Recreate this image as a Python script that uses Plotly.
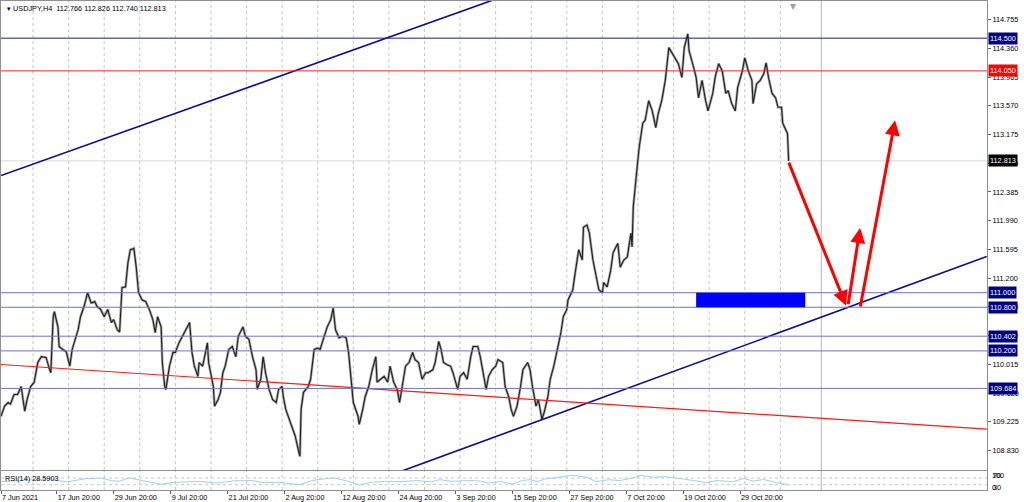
import plotly.graph_objects as go

# ---------------- data ----------------
# H4 bar index (0 = left edge of chart) and price
bars = [0,3,6,8,11,14,17,20,22,25,28,31,34,38,41,42,44,45,48,49,52,55,58,60,65,67,70,73,76,79,81,84,87,90,93,95,98,100,
        102,105,107,109,112,114,116,119,122,125,128,130,132,135,136,138,139,142,145,147,150,153,156,159,161,163,166,167,170,
        173,174,175,179,180,183,185,187,189,192,195,198,200,204,206,209,212,215,216,219,221,223,226,229,232,234,237,238,240,
        243,246,248,251,252,253,255,259,261,264,267,269,272,275,278,280,282,285,288,291,293,295,297,301,302,305,307,310,313,
        316,317,320,323,326,328,331,334,336,339,341,344,347,349,352,355,358,360,364,366,369,371,373,376,379,381,385,387,390,
        393,396,398,402,404,407,409,411,414,417,419,423,425,428,430,432,435,438,440,444,446,448,451,453,456,458,461,463,466,
        469,472,474,477,478,482,484,487,490,491,494,496,499,501,504,507,508,511,514,516,520,522,525,528,531,532,533,536,538,
        541,543,546,549,552,554,557,560,563,566,568,571,574,576,579,580,584,586,588,591,594,596,600,602,605,608,611,613,616,
        619,621,625,627,630,633,634,637,640,643,645,647,650,653,655,658,659,663,664]
prices = [109.30,109.44,109.49,109.47,109.60,109.60,109.71,109.37,109.53,109.71,109.77,110.04,110.12,110.11,109.94,109.90,
          110.67,110.74,110.53,110.26,110.22,110.19,109.99,110.22,110.49,110.67,110.81,111.00,110.86,110.88,110.81,110.77,
          110.67,110.77,110.59,110.63,110.49,110.46,111.07,111.08,111.41,111.59,111.61,111.35,111.00,110.90,110.88,110.77,
          110.63,110.45,110.67,110.53,110.04,109.71,109.67,109.99,110.18,110.18,110.31,110.40,110.49,110.59,110.18,109.99,
          109.85,110.04,109.99,110.26,110.31,110.04,109.71,109.44,109.53,109.63,109.90,109.99,110.22,110.26,110.12,110.40,
          110.53,110.40,110.36,110.12,109.94,109.67,109.81,110.12,109.90,109.67,109.53,109.49,109.67,109.71,109.57,109.40,
          109.26,109.12,109.03,108.81,108.75,109.40,109.63,109.71,109.81,110.22,110.24,110.22,110.36,110.53,110.63,110.79,
          110.49,110.38,110.40,110.38,110.18,109.77,109.49,109.30,109.19,109.40,109.57,109.71,109.94,110.12,109.77,109.81,
          109.85,109.77,109.99,109.77,109.67,109.49,109.77,109.99,110.04,110.18,110.08,110.04,109.81,109.90,109.90,109.94,
          110.04,110.33,110.22,110.04,110.01,109.99,109.90,109.67,109.85,109.90,109.81,110.12,110.26,110.26,110.12,109.85,
          109.67,109.85,109.94,109.99,110.08,110.04,109.71,109.57,109.40,109.30,109.44,109.71,109.94,110.04,109.94,109.71,
          109.44,109.53,109.26,109.36,109.57,109.81,109.99,110.22,110.45,110.67,110.77,110.90,111.04,111.27,111.59,111.45,
          111.90,111.93,111.82,111.45,111.27,111.04,111.00,111.14,111.08,111.31,111.55,111.68,111.35,111.45,111.49,111.82,
          111.63,112.18,112.68,113.00,113.33,113.37,113.64,113.50,113.27,113.46,113.64,113.92,114.37,114.28,114.23,114.15,
          113.96,114.37,114.56,114.33,114.09,113.96,113.68,113.92,113.64,113.50,113.74,113.96,114.15,114.05,113.74,113.78,
          113.60,113.50,113.82,114.05,114.23,114.05,113.92,113.60,113.87,113.92,114.01,114.16,113.96,113.74,113.68,113.55,
          113.55,113.33,113.19,112.813]

rsi_bars = [0,14,28,42,48,56,70,84,93,100,108,121,135,146,157,168,182,196,211,222,233,243,252,262,272,280,292,302,312,
            325,338,350,362,370,380,395,404,410,421,432,438,446,452,460,468,474,483,494,502,512,522,533,539,550,561,573,
            584,595,603,617,626,634,643,654,664]
rsi_vals = [48,52,60,66,55,47,65,70,55,50,72,52,33,44,48,50,40,53,55,42,45,38,30,55,66,72,52,28,45,50,48,55,47,60,50,
            55,52,40,48,33,52,61,48,67,72,80,86,74,48,60,55,71,86,75,78,67,55,42,55,48,67,52,61,42,28.59]

# horizontal levels: value, line colour, label colour
levels = [114.500, 114.050, 111.000, 110.800, 110.402, 110.200, 109.684]
level_line_colors = ["#1c1c8c", "#ff2020", "#7070c8", "#7070c8", "#7070c8", "#7070c8", "#7070c8"]
level_label_colors = ["#000080", "#ff0000", "#000080", "#000080", "#000080", "#000080", "#000080"]
last_price = 112.813

# trend lines (bar, price) endpoints
upper_line_bars, upper_line_prices = [0, 500], [112.61, 115.52]
lower_line_bars, lower_line_prices = [338, 831], [108.549, 111.497]
red_line_bars, red_line_prices = [0, 831], [110.013, 109.123]

# blue zone
zone_bars = [586, 678]
zone_prices = [110.80, 111.00]

# forecast arrows: (tail bar, tail price, head bar, head price)
arrows = [(663.6, 112.81, 712.4, 110.82),
          (714.0, 110.82, 724.2, 111.89),
          (724.2, 110.79, 753.7, 113.37)]

# weekly separators (bar index) and chart-shift marker
week_bars = [27, 57, 87, 117, 147, 177, 207, 237, 267, 297, 327, 357, 387, 417, 447, 477, 507, 537, 567, 597, 627, 657]
shift_bar = 691.5

# axes
price_ticks = [114.755, 114.360, 113.965, 113.570, 113.175, 112.780, 112.385, 111.990, 111.595,
               111.200, 110.805, 110.410, 110.015, 109.620, 109.225, 108.830]
time_tick_bars = [0, 47, 95, 143, 191, 239, 287, 335, 383, 431, 479, 527, 575, 623]
time_tick_labels = ["7 Jun 2021", "17 Jun 20:00", "29 Jun 20:00", "9 Jul 20:00", "21 Jul 20:00",
                    "2 Aug 20:00", "12 Aug 20:00", "24 Aug 20:00", "3 Sep 20:00", "15 Sep 20:00",
                    "27 Sep 20:00", "7 Oct 20:00", "19 Oct 20:00", "29 Oct 20:00"]
header = "USDJPY,H4  112.766 112.826 112.740 112.813"

FONT = "Liberation Sans"
FS = 7.3
X_RANGE = [0, 831.2]
Y_RANGE = [108.561, 115.011]

fig = go.Figure()

# price
fig.add_trace(go.Scatter(x=bars, y=prices, mode="lines",
                         line=dict(color="#a8a8a8", width=2.6), xaxis="x", yaxis="y", hoverinfo="skip"))
fig.add_trace(go.Scatter(x=bars, y=prices, mode="lines",
                         line=dict(color="#202020", width=1.1), xaxis="x", yaxis="y"))

# trend lines
fig.add_trace(go.Scatter(x=upper_line_bars, y=upper_line_prices, mode="lines",
                         line=dict(color="#0c0c8c", width=1.6), xaxis="x", yaxis="y"))
fig.add_trace(go.Scatter(x=lower_line_bars, y=lower_line_prices, mode="lines",
                         line=dict(color="#0c0c8c", width=1.6), xaxis="x", yaxis="y"))
fig.add_trace(go.Scatter(x=red_line_bars, y=red_line_prices, mode="lines",
                         line=dict(color="#ff1a1a", width=1.2), xaxis="x", yaxis="y"))

# rsi
fig.add_trace(go.Scatter(x=rsi_bars, y=rsi_vals, mode="lines",
                         line=dict(color="#9fd0f5", width=1), xaxis="x2", yaxis="y2"))

shapes = []
# weekly grid
for wb in week_bars:
    for xr, yr in (("x", "y domain"), ("x2", "y2 domain")):
        shapes.append(dict(type="line", xref=xr, x0=wb, x1=wb, yref=yr, y0=0, y1=1,
                           line=dict(color="#c4c4c4", width=1, dash="dot"), layer="below"))
# level lines
for v, c in zip(levels, level_line_colors):
    shapes.append(dict(type="line", xref="x domain", x0=0, x1=1, yref="y", y0=v, y1=v,
                       line=dict(color=c, width=1)))
# bid line
shapes.append(dict(type="line", xref="x domain", x0=0, x1=1, yref="y", y0=last_price, y1=last_price,
                   line=dict(color="#d8d8d8", width=1), layer="below"))
# zone
shapes.append(dict(type="rect", xref="x", x0=zone_bars[0], x1=zone_bars[1], yref="y",
                   y0=zone_prices[0], y1=zone_prices[1], fillcolor="#0000ff", line=dict(width=0)))
# rsi levels
for v in (70, 30):
    shapes.append(dict(type="line", xref="x2 domain", x0=0, x1=1, yref="y2", y0=v, y1=v,
                       line=dict(color="#c8c8c8", width=1, dash="dot"), layer="below"))
# chart shift line
shapes.append(dict(type="line", xref="x", x0=shift_bar, x1=shift_bar, yref="paper", y0=0, y1=1,
                   line=dict(color="#b4b4b4", width=1), layer="below"))

annotations = []
for v, c in zip(levels + [last_price], level_label_colors + ["#000000"]):
    annotations.append(dict(x=1, xref="paper", xanchor="left", xshift=1, y=v, yref="y", yanchor="middle",
                            text=f"{v:.3f}", showarrow=False, bgcolor=c, borderpad=1,
                            font=dict(color="white", size=FS, family=FONT)))
for (tb, tp, hb, hp) in arrows:
    annotations.append(dict(x=hb, y=hp, xref="x", yref="y", ax=tb, ay=tp, axref="x", ayref="y",
                            showarrow=True, arrowhead=2, arrowsize=1.0, arrowwidth=3,
                            arrowcolor="#ff0000", text=""))
annotations.append(dict(x=0, xref="paper", xanchor="left", xshift=4, y=1, yref="paper", yanchor="top",
                        yshift=-1, text="▾ " + header, showarrow=False,
                        font=dict(color="#000000", size=FS, family=FONT)))
annotations.append(dict(x=0, xref="paper", xanchor="left", xshift=2, y=0.0387, yref="paper", yanchor="top",
                        yshift=-1, text="RSI(14) 28.5903", showarrow=False,
                        font=dict(color="#000000", size=FS, family=FONT)))
annotations.append(dict(x=668, xref="x", y=1, yref="paper", yanchor="top", yshift=4, text="▾",
                        showarrow=False, font=dict(color="#a0a0a0", size=12, family=FONT)))
# RSI scale labels (drawn over each other, as in the tiny MT4 pane)
for t, v, dx in (("100", 88, 3), ("70", 88, 4), ("30", 14, 4), ("0", 14, 3)):
    annotations.append(dict(x=1, xref="paper", xanchor="left", xshift=dx, y=v, yref="y2", yanchor="middle",
                            text=t, showarrow=False, font=dict(color="#000000", size=FS, family=FONT)))

fig.update_layout(
    width=1024, height=502,
    margin=dict(l=0, r=37, t=0, b=11),
    paper_bgcolor="white", plot_bgcolor="white",
    showlegend=False,
    shapes=shapes, annotations=annotations,
    xaxis=dict(domain=[0, 1], anchor="y", range=X_RANGE, showticklabels=False, ticks="",
               showgrid=False, zeroline=False, showline=True, mirror=True, linecolor="#909090"),
    yaxis=dict(domain=[0.0407, 1], anchor="x", range=Y_RANGE, side="right", tickvals=price_ticks,
               ticktext=[f"{v:.3f}" for v in price_ticks], ticks="outside", ticklen=3, tickcolor="#606060",
               tickfont=dict(size=FS, family=FONT, color="#000000"), showgrid=False, zeroline=False,
               showline=True, mirror=True, linecolor="#909090"),
    xaxis2=dict(domain=[0, 1], anchor="y2", range=X_RANGE, tickvals=time_tick_bars, ticktext=time_tick_labels,
                ticks="outside", ticklen=3, tickcolor="#606060", ticklabelposition="outside right",
                tickfont=dict(size=FS, family=FONT, color="#000000"), showgrid=False, zeroline=False,
                showline=True, mirror=True, linecolor="#909090"),
    yaxis2=dict(domain=[0, 0.0387], anchor="x2", range=[-2, 112], showticklabels=False, ticks="",
                showgrid=False, zeroline=False, showline=True, mirror=True, linecolor="#909090"),
)

fig.write_html("out.html", config={"displayModeBar": False},
               post_script="document.body.style.margin='0';")
